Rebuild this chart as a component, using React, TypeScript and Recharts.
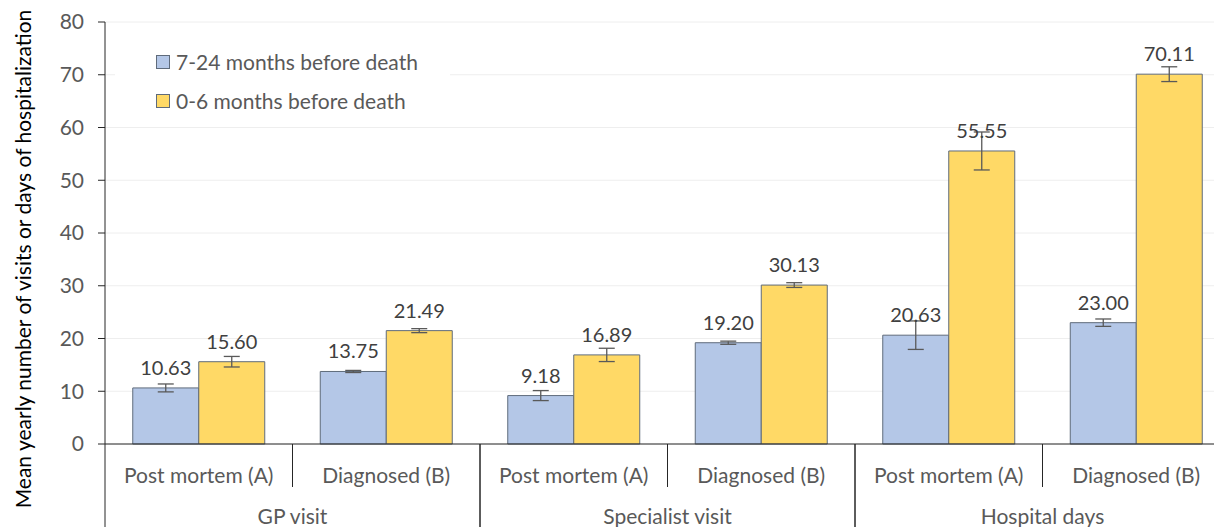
import React from 'react';
import { BarChart, Bar, XAxis, YAxis, CartesianGrid, Legend, ErrorBar, LabelList } from 'recharts';

const subCategories = ['Post mortem (A)', 'Diagnosed (B)', 'Post mortem (A)', 'Diagnosed (B)', 'Post mortem (A)', 'Diagnosed (B)'];
const groupLabels = ['GP visit', 'GP visit', 'Specialist visit', 'Specialist visit', 'Hospital days', 'Hospital days'];
const earlyValues = [10.63, 13.75, 9.18, 19.2, 20.63, 23.0];
const earlyErrors = [0.75, 0.2, 0.95, 0.3, 2.7, 0.7];
const lateValues = [15.6, 21.49, 16.89, 30.13, 55.55, 70.11];
const lateErrors = [1.0, 0.38, 1.26, 0.45, 3.6, 1.4];
const yTicks = [0, 10, 20, 30, 40, 50, 60, 70, 80];

const seriesNames = ['7-24 months before death', '0-6 months before death'];

const data = subCategories.map((name, i) => ({
  key: `${i}`,
  name,
  group: groupLabels[i],
  early: earlyValues[i],
  earlyErr: earlyErrors[i],
  late: lateValues[i],
  lateErr: lateErrors[i],
}));

const FONT = 'Lato, "Liberation Sans", sans-serif';
const CHART_W = 1240;
const CHART_H = 527;
const PLOT_LEFT = 105;
const PLOT_RIGHT = 1230;
const BAND = (PLOT_RIGHT - PLOT_LEFT) / subCategories.length;
const BLUE = '#b4c7e7';
const YELLOW = '#ffd966';
const EDGE = '#5f6b7b';

const CategoryTick: React.FC<any> = (props) => {
  const { x, y, payload, index } = props;
  const i = index ?? Number(payload.value);
  const left = x - BAND / 2;
  const right = x + BAND / 2;
  const firstInGroup = i % 2 === 0;
  return (
    <g>
      <text x={x} y={y + 30} textAnchor="middle" dominantBaseline="central" fill="#595959" fontSize={21} fontFamily={FONT}>
        {subCategories[i]}
      </text>
      {firstInGroup ? (
        <>
          <line x1={right} y1={y} x2={right} y2={y + 43} stroke="#262626" strokeWidth={1} />
          <line x1={left} y1={y} x2={left} y2={y + 90} stroke="#262626" strokeWidth={1} />
          <text x={right} y={y + 71} textAnchor="middle" dominantBaseline="central" fill="#595959" fontSize={21} fontFamily={FONT}>
            {groupLabels[i]}
          </text>
        </>
      ) : (
        <line x1={right} y1={y} x2={right} y2={y + 90} stroke="#262626" strokeWidth={1} />
      )}
    </g>
  );
};

const YTitle: React.FC<any> = () => (
  <text
    x={22}
    y={259}
    transform="rotate(-90 22 259)"
    textAnchor="middle"
    dominantBaseline="central"
    fill="#000"
    fontSize={21}
    fontFamily={FONT}
  >
    Mean yearly number of visits or days of hospitalization
  </text>
);

const LegendBox: React.FC<any> = () => (
  <div style={{ background: '#fff', padding: '2px 0 2px 41px', fontFamily: FONT }}>
    {seriesNames.map((n, i) => (
      <div key={n} style={{ display: 'flex', alignItems: 'center', height: 39 }}>
        <span
          style={{
            display: 'inline-block',
            width: 12,
            height: 12,
            background: i === 0 ? BLUE : YELLOW,
            border: `1px solid ${EDGE}`,
            marginRight: 6,
          }}
        />
        <span style={{ fontSize: 21, color: '#595959' }}>{n}</span>
      </div>
    ))}
  </div>
);

const fmt = (v: any) => Number(v).toFixed(2);

export default function App() {
  return (
    <div style={{ position: 'fixed', left: 0, top: 0, width: 1214, height: 527, overflow: 'hidden', background: '#fff' }}>
      <BarChart
        width={CHART_W}
        height={CHART_H}
        data={data}
        margin={{ top: 22, right: CHART_W - PLOT_RIGHT, left: 0, bottom: 0 }}
        barCategoryGap="14.8%"
        barGap={0}
      >
        <CartesianGrid horizontal vertical={false} stroke="#eeeeee" />
        <XAxis
          dataKey="key"
          height={83}
          axisLine={{ stroke: '#262626' }}
          tickLine={false}
          tickSize={0}
          tickMargin={0}
          interval={0}
          tick={<CategoryTick />}
        />
        <YAxis
          width={PLOT_LEFT}
          domain={[0, 80]}
          ticks={yTicks}
          interval={0}
          axisLine={{ stroke: '#262626' }}
          tickLine={{ stroke: '#262626' }}
          tickSize={7}
          tickMargin={14}
          tick={{ fill: '#595959', fontSize: 21, fontFamily: FONT }}
          label={<YTitle />}
        />
        <Legend
          layout="vertical"
          align="center"
          verticalAlign="middle"
          content={<LegendBox />}
          wrapperStyle={{ top: 40, left: 115, width: 335 }}
        />
        <Bar dataKey="early" name={seriesNames[0]} fill={BLUE} stroke={EDGE} strokeWidth={1} isAnimationActive={false}>
          <ErrorBar dataKey="earlyErr" width={8} stroke="#595959" strokeWidth={1.3} />
          <LabelList dataKey="early" position="top" offset={13} formatter={fmt} fill="#404040" fontSize={20} fontFamily={FONT} />
        </Bar>
        <Bar dataKey="late" name={seriesNames[1]} fill={YELLOW} stroke={EDGE} strokeWidth={1} isAnimationActive={false}>
          <ErrorBar dataKey="lateErr" width={8} stroke="#595959" strokeWidth={1.3} />
          <LabelList dataKey="late" position="top" offset={13} formatter={fmt} fill="#404040" fontSize={20} fontFamily={FONT} />
        </Bar>
      </BarChart>
    </div>
  );
}
